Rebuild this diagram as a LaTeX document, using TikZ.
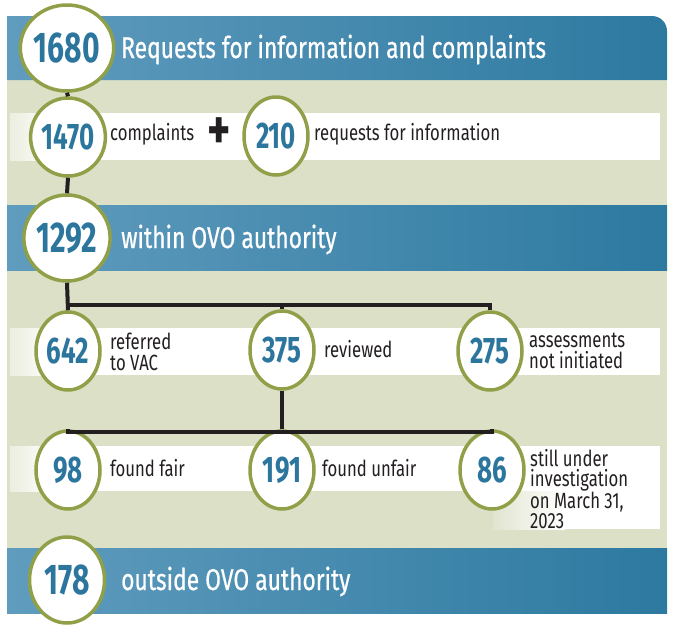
\documentclass[tikz,border=0pt]{standalone}
\usepackage{fontspec}
\setmainfont{Fira Sans}[FakeStretch=0.76]
\newfontfamily\numfont{Fira Sans}[FakeStretch=0.7]
\newfontfamily\headfont{Fira Sans}[FakeStretch=0.76,FakeBold=0.6]
\usetikzlibrary{shapes.geometric,positioning}

\definecolor{panelgreen}{RGB}{219,224,199}
\definecolor{bandleft}{RGB}{96,156,190}
\definecolor{bandright}{RGB}{45,121,160}
\definecolor{ringgreen}{RGB}{143,160,72}
\definecolor{numblue}{RGB}{44,118,158}
\definecolor{inkdark}{RGB}{35,31,32}

\tikzset{
  bigcount/.style={ellipse, draw=ringgreen, line width=3.5pt, fill=white, inner sep=0pt,
    minimum width=75pt, minimum height=86pt, text=numblue,
    font=\numfont\bfseries\fontsize{43}{43}\selectfont},
  count/.style={ellipse, draw=ringgreen, line width=3.5pt, fill=white, inner sep=0pt,
    minimum width=64pt, minimum height=78pt, text=numblue,
    font=\numfont\bfseries\fontsize{37}{37}\selectfont},
  bandtext/.style={anchor=base west, inner sep=0pt, text=white, font=\headfont\fontsize{30}{30}\selectfont},
  rowtext/.style={anchor=west, inner sep=0pt, text=inkdark, align=left, font=\fontsize{22}{21}\selectfont},
  branch/.style={draw=inkdark, line width=4pt},
  fade/.style={left color=panelgreen!55!white, right color=white},
}

\begin{document}
\begin{tikzpicture}[x=1pt,y=1pt,yscale=-1,xscale=1]
  \useasboundingbox (0,0) rectangle (677,635);

  %Shape: Panel
  \fill[panelgreen] (7,80) rectangle (667,548);
  %Shape: Top band
  \shade[left color=bandleft, right color=bandright] (7,80) -- (7,16) -- (652,16) .. controls (660.3,16) and (667,22.7) .. (667,31) -- (667,80) -- cycle;
  %Shape: Middle band
  \shade[left color=bandleft, right color=bandright] (7,205) rectangle (667,270);
  %Shape: Bottom band
  \shade[left color=bandleft, right color=bandright] (7,548) rectangle (667,613);

  %Shape: Row strips
  \shade[fade] (10,113) rectangle (55,160);
  \fill[white] (55,113) rectangle (660,160);
  \shade[fade] (10,328) rectangle (55,375);
  \fill[white] (55,328) rectangle (660,375);
  \shade[fade] (10,446) rectangle (55,491);
  \fill[white] (55,446) rectangle (660,491);
  \shade[left color=panelgreen!85!white, right color=white] (493,491) rectangle (565,529);
  \fill[white] (565,491) rectangle (660,529);

  % Count nodes
  \node[bigcount] (n1680) at (67,48) {1680};
  \node[count] (n1470) at (68,137) {1470};
  \node[count] (n210) at (276,136) {210};
  \node[bigcount] (n1292) at (67,238) {1292};
  \node[count] (n642) at (68,351) {642};
  \node[count] (n375) at (282,350) {375};
  \node[count] (n275) at (490,351) {275};
  \node[count] (n98) at (68,470) {98};
  \node[count] (n191) at (282,470) {191};
  \node[count] (n86) at (492,470) {86};
  \node[bigcount] (n178) at (67,580) {178};

  % Branches
  \coordinate (bar1) at (0,305);
  \coordinate (bar2) at (0,432);
  \draw[branch] (n1680.south) -- (n1470.north);
  \draw[branch] (n1470.south) -- (n1292.north);
  \draw[branch] (n1292.south) -- (n642.north);
  \draw[branch] (n642 |- bar1) -| (n275.north);
  \draw[branch] (n375 |- bar1) -- (n375.north);
  \draw[branch] (n375.south) -- (n191.north);
  \draw[branch] (n98.north) |- (n86 |- bar2) -- (n86.north);

  % Text Node
  \node[bandtext] (t1680) at (121,58) {Requests for information and complaints};
  \node[bandtext] (t1292) at (121,248) {within OVO authority};
  \node[bandtext] (t178) at (121,590) {outside OVO authority};
  \node[rowtext] (t1470) at (110,134) {complaints};
  \node[inner sep=0pt, text=inkdark, font=\bfseries\fontsize{58}{58}\selectfont] (plus) at (219,134) {+};
  \node[rowtext] (t210) at (314,134) {requests for information};
  \node[rowtext] (t642) at (110,352) {referred\\to VAC};
  \node[rowtext] (t375) at (324,349) {reviewed};
  \node[rowtext] (t275) at (529,351) {assessments\\not initiated};
  \node[rowtext] (t98) at (110,468) {found fair};
  \node[rowtext] (t191) at (322,468) {found unfair};
  \node[rowtext, anchor=north west, font=\fontsize{22}{20}\selectfont] (t86) at (530,449) {still under\\investigation\\on March 31,\\2023};
\end{tikzpicture}
\end{document}
